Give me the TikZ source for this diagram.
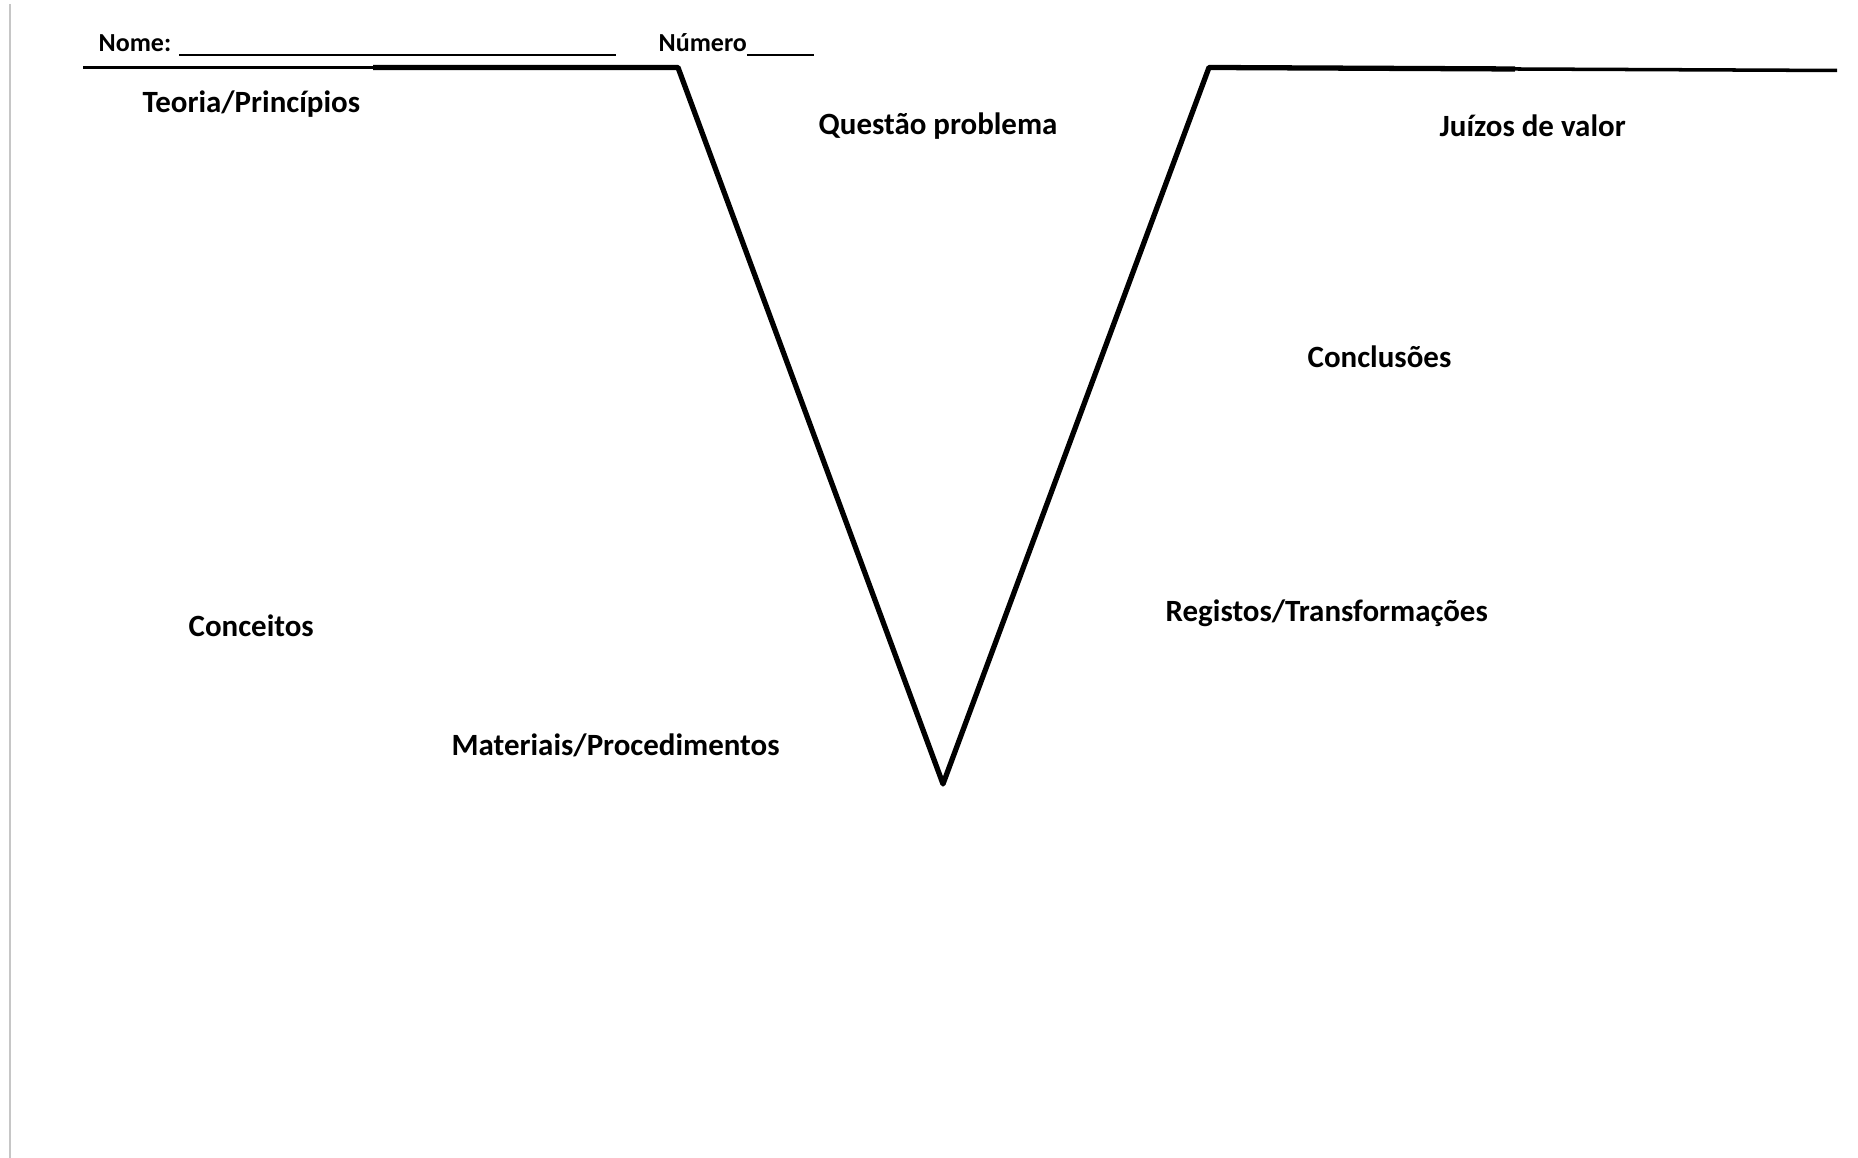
\documentclass[tikz,border=0pt]{standalone}
\usepackage{fontspec}
\setmainfont{Carlito}
\usetikzlibrary{positioning,calc}

\begin{document}
\begin{tikzpicture}[
    vline/.style={line width=1.5pt, line join=round},
    thinline/.style={line width=1pt},
    hdr/.style={anchor=west, inner sep=0pt, font=\bfseries\fontsize{7.4}{9}\selectfont},
    label/.style={anchor=west, inner sep=0pt, font=\bfseries\fontsize{8.8}{10}\selectfont}
]

% Page frame
\useasboundingbox (0,0) rectangle (18.58,11.58);
\draw[gray!45, line width=0.8pt] (0.1,11.54) -- (0.1,0);

% Header
\node[hdr] (nome) at (0.98, 11.13) {Nome: \rule[-1.3pt]{4.37cm}{0.5pt}};
\node[hdr] (numero) at (6.58, 11.13) {Número\rule[-1.3pt]{0.67cm}{0.5pt}};

% V shape
\coordinate (topl) at (0.83, 10.905);
\coordinate (thkl) at (3.73, 10.905);
\coordinate (cnrl) at (6.78, 10.905);
\coordinate (tip) at (9.43, 3.74);
\coordinate (cnrr) at (12.09, 10.905);
\coordinate (thkr) at (15.15, 10.89);
\coordinate (topr) at (18.37, 10.875);

\draw[thinline] (topl) -- (thkl);
\draw[vline] (thkl) -- (cnrl) -- (tip) -- (cnrr) -- (thkr);
\draw[thinline] (thkr) -- (topr);

% Left side
\node[label] (teoria) at (1.42, 10.54) {Teoria/Princípios};
\node[label] (conceitos) at (1.88, 5.32) {Conceitos};
\node[label] (materiais) at (4.51, 4.13) {Materiais/Procedimentos};

% Centre
\node[label] (questao) at (8.18, 10.32) {Questão problema};

% Right side
\node[label] (juizos) at (14.39, 10.32) {Juízos de valor};
\node[label] (conclusoes) at (13.07, 8.01) {Conclusões};
\node[label] (registos) at (11.65, 5.45) {Registos/Transformações};

\end{tikzpicture}
\end{document}
